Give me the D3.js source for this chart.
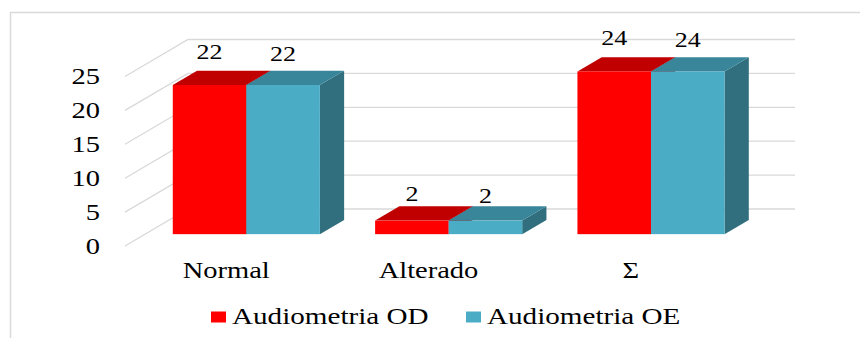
<!DOCTYPE html>
<html>
<head>
<meta charset="utf-8">
<script src="https://cdn.jsdelivr.net/npm/d3@7"></script>
<style>
  html, body { margin: 0; padding: 0; background: #fff; }
  svg { display: block; }
  text { font-family: "Liberation Serif", "Times New Roman", serif; fill: #000; }
</style>
</head>
<body>
<svg id="chart" width="860" height="338"></svg>
<script>
// ---- data ----
const categories = ["Normal", "Alterado", "Σ"];
const seriesNames = ["Audiometria OD", "Audiometria OE"];
const valuesOD = [22, 2, 24];
const valuesOE = [22, 2, 24];
const yTicks = [0, 5, 10, 15, 20, 25];

// ---- styling ----
const frontColors = ["#FF0000", "#4BACC6"];
const topColors   = ["#C00000", "#39859A"];
const sideColors  = ["#A00000", "#316F7E"];
const gridColor = "#D9D9D9";
const SX = 1.24;          // horizontal text stretch
const DX = 63, DY = 37;   // full depth offset
const zFront = 0.32, zBack = 0.705;

const svg = d3.select("#chart");

// border
svg.append("line").attr("x1", 10).attr("x2", 860).attr("y1", 12.5).attr("y2", 12.5)
  .attr("stroke", gridColor).attr("stroke-width", 1.5);
svg.append("line").attr("x1", 10.5).attr("x2", 10.5).attr("y1", 12).attr("y2", 338)
  .attr("stroke", gridColor).attr("stroke-width", 1.5);

// scales
const x0 = d3.scaleBand().domain(categories).range([125, 732])
  .paddingInner(0.273).paddingOuter(0.1365);
const x1 = d3.scaleBand().domain(seriesNames).range([0, x0.bandwidth()]);
const y = d3.scaleLinear().domain([0, 25]).range([246, 76.5]);
const labelY = d3.scaleLinear().domain([0, 25]).range([215, 37.5]);
const labelOffset = [0, 2];

const P = (x, v, z) => [x + z * DX, y(v) - z * DY];
const pts = arr => arr.map(p => p.join(",")).join(" ");

// gridlines: back wall + left wall
const [xL, xR] = x0.range();
const grid = svg.append("g");
yTicks.forEach(v => {
  const a = P(xL, v, 0), b = P(xL, v, 1), c = P(xR, v, 1);
  grid.append("polyline").attr("points", pts([a, b, c]))
    .attr("fill", "none").attr("stroke", gridColor).attr("stroke-width", 1.3);
});

// tick labels
svg.append("g").selectAll("text").data(yTicks).join("text")
  .attr("transform", d => `translate(100,${y(d)}) scale(${SX},1)`)
  .attr("dy", "0.34em").attr("text-anchor", "end")
  .style("font-size", "23px").text(d => d);

// bars
const series = [valuesOD, valuesOE];
const bars = svg.append("g");
categories.forEach((cat, ci) => {
  series.forEach((vals, si) => {
    const v = vals[ci];
    const xa = x0(cat) + x1(seriesNames[si]);
    const xb = xa + x1.bandwidth();
    // side face
    bars.append("polygon").attr("points", pts([P(xb, 0, zFront), P(xb, 0, zBack), P(xb, v, zBack), P(xb, v, zFront)]))
      .attr("fill", sideColors[si]);
    // top face
    bars.append("polygon").attr("points", pts([P(xa, v, zFront), P(xb, v, zFront), P(xb, v, zBack), P(xa, v, zBack)]))
      .attr("fill", topColors[si]);
    // front face
    const [fx, fy] = P(xa, v, zFront);
    const [, fy0] = P(xa, 0, zFront);
    bars.append("rect").attr("x", fx).attr("y", fy).attr("width", xb - xa).attr("height", fy0 - fy)
      .attr("fill", frontColors[si]);
  });
});

// data labels
categories.forEach((cat, ci) => {
  series.forEach((vals, si) => {
    const v = vals[ci];
    const cx = x0(cat) + x1(seriesNames[si]) + x1.bandwidth() / 2 + zFront * DX;
    svg.append("text")
      .attr("transform", `translate(${cx},${labelY(v) + labelOffset[si]}) scale(${SX},1)`)
      .attr("text-anchor", "middle").style("font-size", "21px").text(v);
  });
});

// category labels
svg.append("g").selectAll("text").data(categories).join("text")
  .attr("transform", d => `translate(${x0(d) + x0.bandwidth() / 2},278) scale(${SX},1)`)
  .attr("text-anchor", "middle").style("font-size", "23px").text(d => d);

// legend
const legendX = [211, 466];
const leg = svg.append("g");
seriesNames.forEach((name, si) => {
  leg.append("rect").attr("x", legendX[si]).attr("y", 311.5).attr("width", 15).attr("height", 11)
    .attr("fill", frontColors[si]);
  leg.append("text")
    .attr("transform", `translate(${legendX[si] + 21},324) scale(${SX},1)`)
    .style("font-size", "23.5px").text(name);
});
</script>
</body>
</html>
